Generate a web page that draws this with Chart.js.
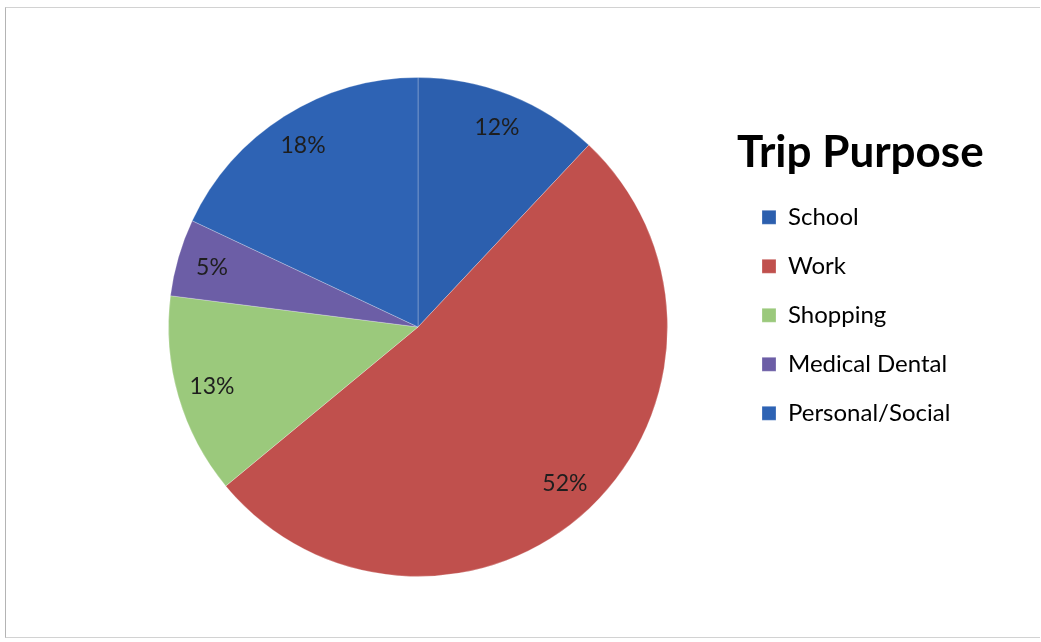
<!DOCTYPE html>
<html>
<head>
<meta charset="utf-8">
<title>Trip Purpose</title>
<script src="https://cdn.jsdelivr.net/npm/chart.js@4.4.1/dist/chart.umd.min.js"></script>
<style>
	body {
		margin: 0;
		background: #ffffff;
	}
	.chart__container {
		position: relative;
		width: 1041px;
		height: 642px;
	}
	.chart__frame {
		position: absolute;
		left: 5px;
		top: 7px;
		width: 1034px;
		height: 629px;
		border: 1px solid #d2d2d2;
		border-left-color: #b4b4b4;
		border-right: none;
		pointer-events: none;
	}
</style>
</head>
<body>
<div class="chart__container">
	<canvas id="tripChart"></canvas>
	<div class="chart__frame"></div>
</div>
<script>
// Share of trips by purpose (%)
const purposes = ["School", "Work", "Shopping", "Medical Dental", "Personal/Social"];
const shares = [12, 52, 13, 5, 18];
const sliceColors = ["#2c5fae", "#c0504d", "#9bc97c", "#6c5ea6", "#2e63b4"];

// Legend is kept wide enough that the big heading isn't clipped
const LEGEND_WIDTH = 262;

const widenLegend = {
	id: "widenLegend",
	beforeLayout(chart) {
		const legend = chart.legend;
		if (!legend || legend.widened) return;
		const fit = legend.fit;
		legend.fit = function () {
			fit.call(this);
			this.width = Math.max(this.width, LEGEND_WIDTH);
		};
		legend.widened = true;
	},
};

// Percent labels drawn inside each slice, near the rim
const sliceLabels = {
	id: "sliceLabels",
	afterDatasetsDraw(chart) {
		const ctx = chart.ctx;
		const meta = chart.getDatasetMeta(0);
		ctx.save();
		ctx.font = "23px Lato";
		ctx.fillStyle = "#1e1e1e";
		ctx.textAlign = "center";
		ctx.textBaseline = "middle";
		meta.data.forEach((arc, i) => {
			const { x, y, startAngle, endAngle, outerRadius } = arc.getProps(
				["x", "y", "startAngle", "endAngle", "outerRadius"],
				true
			);
			const mid = (startAngle + endAngle) / 2;
			const r = outerRadius * 0.86;
			ctx.fillText(`${shares[i]}%`, x + Math.cos(mid) * r, y + Math.sin(mid) * r);
		});
		ctx.restore();
	},
};

const chartCtx = document.getElementById("tripChart").getContext("2d");
const tripChart = new Chart(chartCtx, {
	type: "pie",
	data: {
		labels: purposes,
		datasets: [
			{
				data: shares,
				backgroundColor: sliceColors,
				borderColor: "rgba(255, 255, 255, 0.25)",
				borderWidth: 1,
			},
		],
	},
	options: {
		responsive: true,
		maintainAspectRatio: false,
		animation: false,
		layout: {
			padding: { left: 99, right: 42, top: 77, bottom: 65 },
		},
		plugins: {
			tooltip: { enabled: false },
			legend: {
				position: "right",
				align: "start",
				title: {
					display: true,
					text: "Trip Purpose",
					position: "start",
					color: "#000000",
					font: { family: "Lato", size: 44, weight: "bold", lineHeight: 1.12 },
					padding: { top: 54, bottom: 0 },
				},
				labels: {
					color: "#000000",
					font: { family: "Lato", size: 24 },
					boxWidth: 14,
					boxHeight: 14,
					padding: 25,
				},
			},
		},
	},
	plugins: [widenLegend, sliceLabels],
});
</script>
</body>
</html>
